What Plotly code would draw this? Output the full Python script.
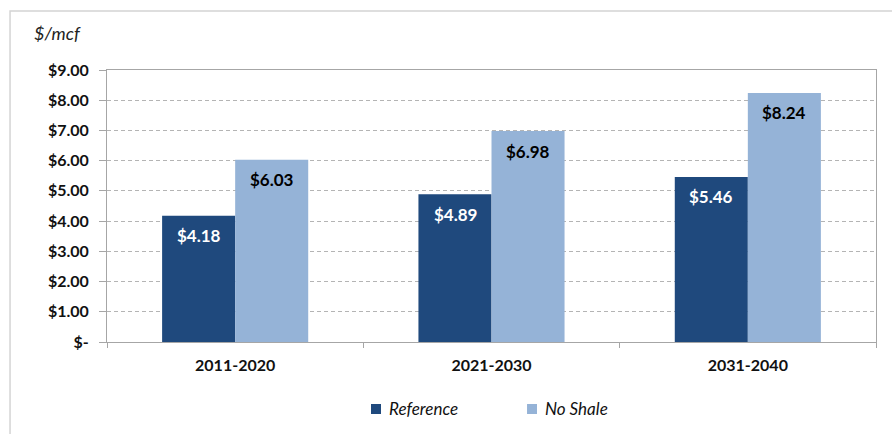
import plotly.graph_objects as go

periods = ["2011-2020", "2021-2030", "2031-2040"]
reference = [4.18, 4.89, 5.46]
no_shale = [6.03, 6.98, 8.24]
series_names = ["Reference", "No Shale"]
y_ticks = [0, 1, 2, 3, 4, 5, 6, 7, 8, 9]
y_tick_labels = ["$-", "$1.00", "$2.00", "$3.00", "$4.00", "$5.00",
                 "$6.00", "$7.00", "$8.00", "$9.00"]

DARK = "#1f497d"
LIGHT = "#95b3d7"
FONT = "Lato, Open Sans, sans-serif"
colors = [DARK, LIGHT]

fig = go.Figure()
for name, vals, col in zip(series_names, [reference, no_shale], colors):
    fig.add_trace(go.Bar(name=name, x=periods, y=vals,
                         marker=dict(color=col, line=dict(width=0))))

# value labels just inside the top of each bar
for i, (series, color) in enumerate([(reference, "white"), (no_shale, "black")]):
    offset = -0.142 if i == 0 else 0.142
    for k, v in enumerate(series):
        fig.add_annotation(x=k + offset, y=v, xref="x", yref="y",
                           text=f"${v:.2f}", showarrow=False,
                           yanchor="middle", yshift=-20,
                           font=dict(family=FONT, size=17, color=color, weight="bold"))

# units label
fig.add_annotation(x=-0.097, y=1.135, xref="paper", yref="paper",
                   text="<i>$/mcf</i>", showarrow=False, xanchor="left", yanchor="middle",
                   font=dict(family=FONT, size=18, color="#222"))

# legend row: colour key square followed by italic series name
legend_x = [0.3433, 0.5462]
for name, col, lx in zip(series_names, colors, legend_x):
    fig.add_shape(type="rect", xref="paper", yref="paper",
                  x0=lx, x1=lx + 0.013, y0=-0.2647, y1=-0.228,
                  fillcolor=col, line=dict(width=0))
    fig.add_annotation(x=lx + 0.0205, y=-0.2463, xref="paper", yref="paper",
                       text=f"<i>{name}</i>", showarrow=False,
                       xanchor="left", yanchor="middle",
                       font=dict(family=FONT, size=17, color="#111"))

# outer chart frame
fig.add_shape(type="rect", xref="paper", yref="paper",
              x0=-0.1261, x1=1.2, y0=-0.6, y1=1.2169,
              line=dict(color="#d4d4d4", width=1.5), layer="below")

fig.update_layout(
    width=892, height=434,
    margin=dict(l=107, r=16, t=70, b=92),
    paper_bgcolor="white", plot_bgcolor="white",
    barmode="group", bargap=0.43, bargroupgap=0,
    font=dict(family=FONT, color="#111"),
    showlegend=False,
    xaxis=dict(showline=True, linecolor="#a6a6a6", linewidth=1, mirror=True,
               ticks="outside", tickson="boundaries", ticklen=5, tickcolor="#a6a6a6",
               tickfont=dict(family=FONT, size=16, color="#111", weight="bold"),
               showgrid=False, ticklabelstandoff=9),
    yaxis=dict(range=[0, 9], tickvals=y_ticks, ticktext=y_tick_labels,
               showline=True, linecolor="#a6a6a6", linewidth=1, mirror=True,
               ticks="outside", ticklen=7, tickcolor="#a6a6a6",
               tickfont=dict(family=FONT, size=16, color="#111", weight="bold"),
               showgrid=True, gridcolor="#b4b4b4", griddash="4px,3px", gridwidth=1,
               zeroline=False, ticklabelstandoff=7),
)

fig.write_html("out.html")
